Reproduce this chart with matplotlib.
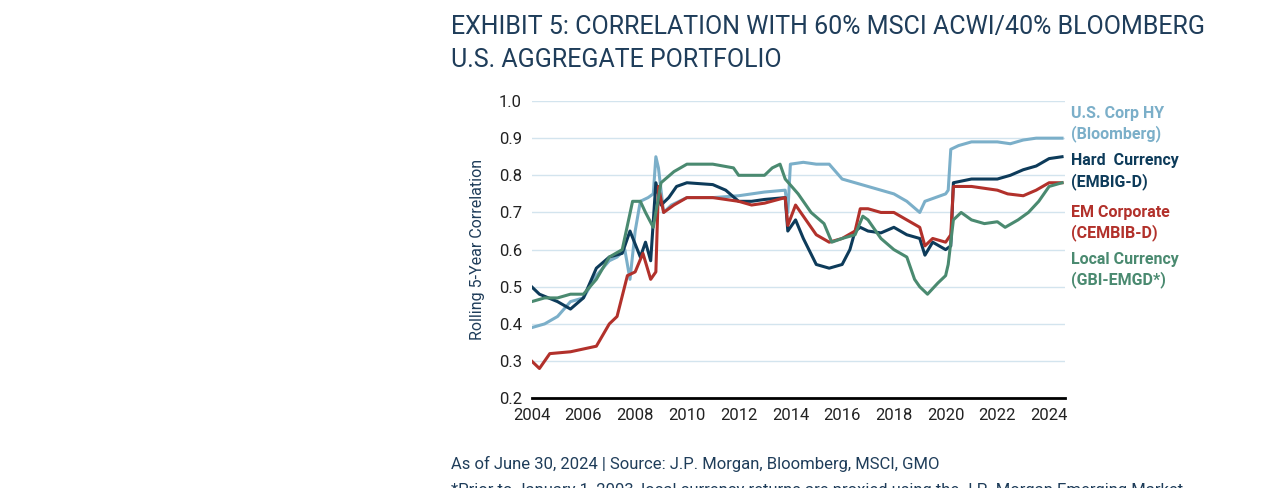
import matplotlib.pyplot as plt
import numpy as np

plt.rcParams['font.family'] = ['Roboto', 'DejaVu Sans']

hy_x = [2004, 2004.5, 2005, 2005.5, 2006, 2006.5, 2007, 2007.3, 2007.6, 2007.8, 2008, 2008.2, 2008.5, 2008.7, 2008.8, 2008.9, 2009.1, 2009.4, 2010, 2011, 2012, 2013, 2013.8, 2013.9, 2014.0, 2014.5, 2015, 2015.5, 2016, 2016.5, 2017, 2017.5, 2018, 2018.5, 2019, 2019.2, 2019.6, 2020, 2020.1, 2020.2, 2020.5, 2021, 2022, 2022.5, 2023, 2023.5, 2024, 2024.5]
hy_y = [0.39, 0.40, 0.42, 0.46, 0.47, 0.53, 0.57, 0.58, 0.60, 0.52, 0.65, 0.73, 0.74, 0.75, 0.85, 0.82, 0.70, 0.72, 0.74, 0.74, 0.745, 0.755, 0.76, 0.70, 0.83, 0.835, 0.83, 0.83, 0.79, 0.78, 0.77, 0.76, 0.75, 0.73, 0.70, 0.73, 0.74, 0.75, 0.76, 0.87, 0.88, 0.89, 0.89, 0.885, 0.895, 0.90, 0.90, 0.90]

hc_x = [2004, 2004.3, 2005, 2005.5, 2006, 2006.5, 2007, 2007.5, 2007.8, 2008.2, 2008.4, 2008.6, 2008.8, 2009, 2009.3, 2009.6, 2010, 2011, 2011.5, 2012, 2012.5, 2013, 2013.8, 2013.9, 2014.2, 2014.5, 2015, 2015.5, 2016, 2016.3, 2016.5, 2016.7, 2017, 2017.5, 2018, 2018.5, 2019, 2019.2, 2019.5, 2020, 2020.2, 2020.3, 2021, 2022, 2022.5, 2023, 2023.5, 2024, 2024.5]
hc_y = [0.50, 0.48, 0.46, 0.44, 0.47, 0.55, 0.58, 0.59, 0.65, 0.58, 0.62, 0.57, 0.78, 0.72, 0.74, 0.77, 0.78, 0.775, 0.76, 0.73, 0.73, 0.735, 0.74, 0.65, 0.68, 0.63, 0.56, 0.55, 0.56, 0.60, 0.65, 0.66, 0.65, 0.645, 0.66, 0.64, 0.63, 0.585, 0.62, 0.60, 0.61, 0.78, 0.79, 0.79, 0.80, 0.815, 0.825, 0.845, 0.85]

em_x = [2004, 2004.3, 2004.7, 2005.5, 2006.5, 2007, 2007.3, 2007.7, 2008, 2008.3, 2008.6, 2008.8, 2008.9, 2009.1, 2009.5, 2010, 2011, 2012, 2012.5, 2013, 2013.8, 2013.9, 2014.2, 2014.5, 2015, 2015.5, 2016, 2016.5, 2016.7, 2017, 2017.5, 2018, 2018.5, 2019, 2019.2, 2019.5, 2020, 2020.2, 2020.3, 2021, 2022, 2022.4, 2023, 2023.5, 2024, 2024.5]
em_y = [0.30, 0.28, 0.32, 0.325, 0.34, 0.40, 0.42, 0.53, 0.54, 0.59, 0.52, 0.54, 0.77, 0.70, 0.72, 0.74, 0.74, 0.73, 0.72, 0.725, 0.74, 0.665, 0.72, 0.69, 0.64, 0.62, 0.63, 0.65, 0.71, 0.71, 0.70, 0.70, 0.68, 0.66, 0.61, 0.63, 0.62, 0.64, 0.77, 0.77, 0.76, 0.75, 0.745, 0.76, 0.78, 0.78]

lc_x = [2004, 2004.5, 2005, 2005.5, 2006, 2006.5, 2007, 2007.5, 2007.9, 2008.2, 2008.4, 2008.7, 2009, 2009.5, 2010, 2011, 2011.8, 2012, 2013, 2013.3, 2013.6, 2013.8, 2014.3, 2014.8, 2015.3, 2015.6, 2016, 2016.5, 2016.8, 2017, 2017.5, 2018, 2018.5, 2018.8, 2019, 2019.3, 2019.7, 2020, 2020.1, 2020.3, 2020.6, 2021, 2021.5, 2022, 2022.3, 2022.8, 2023.2, 2023.6, 2024, 2024.5]
lc_y = [0.46, 0.47, 0.47, 0.48, 0.48, 0.52, 0.58, 0.60, 0.73, 0.73, 0.70, 0.66, 0.78, 0.81, 0.83, 0.83, 0.82, 0.80, 0.80, 0.82, 0.83, 0.79, 0.75, 0.70, 0.67, 0.62, 0.63, 0.64, 0.69, 0.68, 0.63, 0.60, 0.58, 0.52, 0.50, 0.48, 0.51, 0.53, 0.56, 0.68, 0.70, 0.68, 0.67, 0.675, 0.66, 0.68, 0.70, 0.73, 0.77, 0.78]

series = [
    (hy_x, hy_y, '#7bafc9', 'U.S. Corp HY\n(Bloomberg)', 0.938),
    (hc_x, hc_y, '#0d3b5a', 'Hard  Currency\n(EMBIG-D)', 0.81),
    (em_x, em_y, '#b2312b', 'EM Corporate\n(CEMBIB-D)', 0.672),
    (lc_x, lc_y, '#4a8a70', 'Local Currency\n(GBI-EMGD*)', 0.545),
]

fig = plt.figure(figsize=(12.75, 4.88), dpi=100)
ax = fig.add_axes([0.417, 0.184, 0.418, 0.609])

for x, y, c, lab, ly in series:
    ax.plot(x, y, color=c, lw=2.2)
    ax.text(2024.85, ly, lab, color=c, fontsize=11.5, fontweight='bold',
            va='center', ha='left', linespacing=1.35)

ax.set_xlim(2004, 2024.6)
ax.set_ylim(0.2, 1.0)
ax.set_xticks(range(2004, 2025, 2))
ax.set_yticks(np.arange(0.2, 1.01, 0.1))
ax.set_yticklabels([f'{v:.1f}' for v in np.arange(0.2, 1.01, 0.1)])
ax.grid(axis='y', color='#d3e4ee', lw=1)
ax.set_axisbelow(True)
for s in ['top', 'right', 'left']:
    ax.spines[s].set_visible(False)
ax.spines['bottom'].set_linewidth(2)
ax.spines['bottom'].set_color('black')
ax.tick_params(length=0, labelsize=12, colors='#222222', pad=7)
ax.set_ylabel('Rolling 5-Year Correlation', fontsize=11.5, color='#1f3d5a', labelpad=10)

fig.text(0.354, 0.945, 'EXHIBIT 5: CORRELATION WITH 60% MSCI ACWI/40% BLOOMBERG',
         fontsize=18, color='#1f3d5a', va='center')
fig.text(0.354, 0.877, 'U.S. AGGREGATE PORTFOLIO', fontsize=18, color='#1f3d5a', va='center')
fig.text(0.354, 0.05, 'As of June 30, 2024 | Source: J.P. Morgan, Bloomberg, MSCI, GMO',
         fontsize=12, color='#1f3d5a', va='center')
fig.text(0.354, -0.005, '*Prior to January 1, 2003, local currency returns are proxied using the J.P. Morgan Emerging Market',
         fontsize=12, color='#1f3d5a', va='center')

fig.savefig('out.png', dpi=100)
